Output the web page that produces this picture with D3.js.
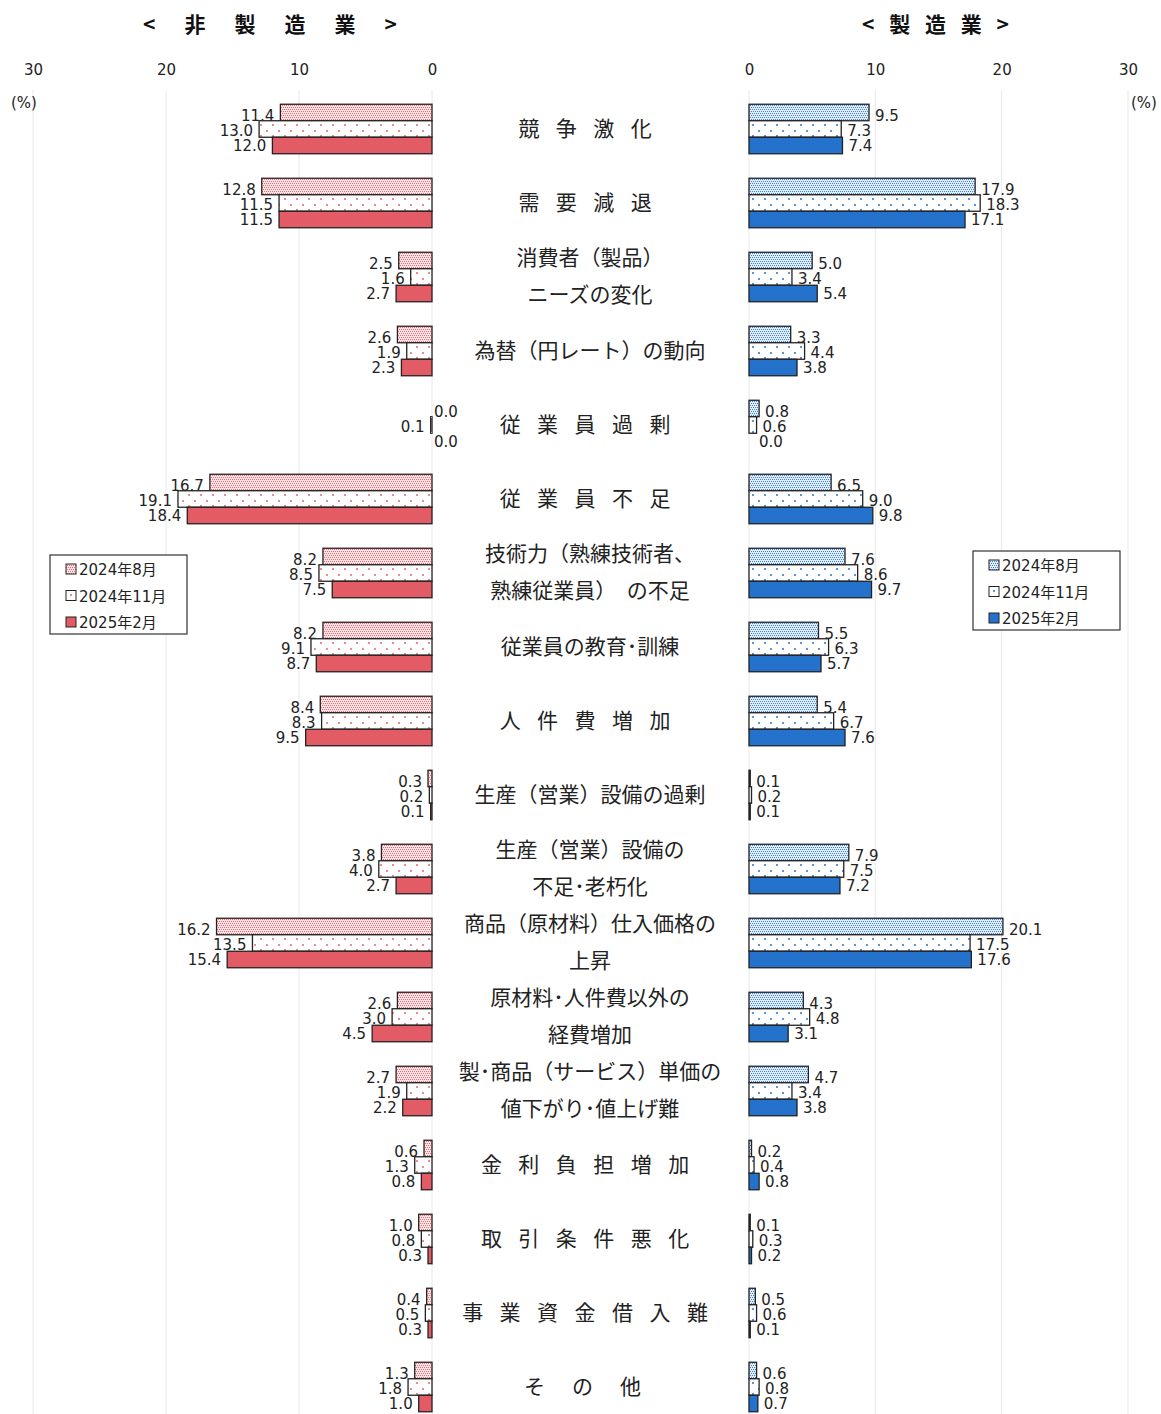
<!DOCTYPE html>
<html>
<head>
<meta charset="utf-8">
<script src="https://cdn.jsdelivr.net/npm/d3@7"></script>
<style>
  body { margin: 0; background: #fff; }
  svg { display: block; }
</style>
</head>
<body>
<svg id="chart" width="1161" height="1414"></svg>
<script>
// categories (each entry = lines of the label)
const categories = [
    ["競　争　激　化"],
    ["需　要　減　退"],
    ["消費者（製品）", "ニーズの変化"],
    ["為替（円レート）の動向"],
    ["従　業　員　過　剰"],
    ["従　業　員　不　足"],
    ["技術力（熟練技術者、", "熟練従業員）　の不足"],
    ["従業員の教育･訓練"],
    ["人　件　費　増　加"],
    ["生産（営業）設備の過剰"],
    ["生産（営業）設備の", "不足･老朽化"],
    ["商品（原材料）仕入価格の", "上昇"],
    ["原材料･人件費以外の", "経費増加"],
    ["製･商品（サービス）単価の", "値下がり･値上げ難"],
    ["金　利　負　担　増　加"],
    ["取　引　条　件　悪　化"],
    ["事　業　資　金　借　入　難"],
    ["そ　の　他"]
];

const periods = ["2024年8月", "2024年11月", "2025年2月"];

// 非製造業
const nonMfgAug = [11.4, 12.8, 2.5, 2.6, 0.0, 16.7, 8.2, 8.2, 8.4, 0.3, 3.8, 16.2, 2.6, 2.7, 0.6, 1.0, 0.4, 1.3];
const nonMfgNov = [13.0, 11.5, 1.6, 1.9, 0.1, 19.1, 8.5, 9.1, 8.3, 0.2, 4.0, 13.5, 3.0, 1.9, 1.3, 0.8, 0.5, 1.8];
const nonMfgFeb = [12.0, 11.5, 2.7, 2.3, 0.0, 18.4, 7.5, 8.7, 9.5, 0.1, 2.7, 15.4, 4.5, 2.2, 0.8, 0.3, 0.3, 1.0];

// 製造業
const mfgAug = [9.5, 17.9, 5.0, 3.3, 0.8, 6.5, 7.6, 5.5, 5.4, 0.1, 7.9, 20.1, 4.3, 4.7, 0.2, 0.1, 0.5, 0.6];
const mfgNov = [7.3, 18.3, 3.4, 4.4, 0.6, 9.0, 8.6, 6.3, 6.7, 0.2, 7.5, 17.5, 4.8, 3.4, 0.4, 0.3, 0.6, 0.8];
const mfgFeb = [7.4, 17.1, 5.4, 3.8, 0.0, 9.8, 9.7, 5.7, 7.6, 0.1, 7.2, 17.6, 3.1, 3.8, 0.8, 0.2, 0.1, 0.7];

const tickValues = [0, 10, 20, 30];

const svg = d3.select("#chart");
const numFont = "'DejaVu Sans', 'Noto Sans CJK JP', sans-serif";
const jpFont = "'Noto Sans CJK JP', sans-serif";

// patterns
let defs = svg.append("defs");
function densePattern(id, bg, color) {
    let p = defs.append("pattern").attr("id", id)
        .attr("patternUnits", "userSpaceOnUse").attr("width", 4).attr("height", 4);
    p.append("rect").attr("width", 4).attr("height", 4).attr("fill", bg);
    [[0, 0], [2, 0], [1, 2], [3, 2]].forEach(function(c) {
        p.append("rect").attr("x", c[0]).attr("y", c[1]).attr("width", 1).attr("height", 1).attr("fill", color);
    });
}
function sparsePattern(id, color) {
    let p = defs.append("pattern").attr("id", id)
        .attr("patternUnits", "userSpaceOnUse").attr("width", 12).attr("height", 11);
    p.append("rect").attr("width", 12).attr("height", 11).attr("fill", "#fff");
    p.append("rect").attr("x", 2).attr("y", 1).attr("width", 2).attr("height", 2).attr("fill", color);
    p.append("rect").attr("x", 8).attr("y", 6).attr("width", 2).attr("height", 2).attr("fill", color);
}
densePattern("redDense", "#fbe4e6", "#ec6a73");
sparsePattern("redSparse", "#ef8a91");
densePattern("blueDense", "#e2edfa", "#3d82d4");
sparsePattern("blueSparse", "#5b95da");

const redFills = ["url(#redDense)", "url(#redSparse)", "#e35b64"];
const blueFills = ["url(#blueDense)", "url(#blueSparse)", "#2472cb"];

// scales
let xL = d3.scaleLinear().domain([0, 30]).range([432, 33]);
let xR = d3.scaleLinear().domain([0, 30]).range([749, 1128]);

let y = d3.scaleBand().domain(d3.range(categories.length)).range([92, 92 + 74 * categories.length]);
let yInner = d3.scaleBand().domain([0, 1, 2]).range([-24.75, 24.75]);

// gridlines
svg.selectAll(".gridL").data(tickValues).enter().append("line")
    .attr("x1", d => xL(d)).attr("x2", d => xL(d))
    .attr("y1", 90).attr("y2", 1414)
    .style("stroke", "#e8e8e8");
svg.selectAll(".gridR").data(tickValues).enter().append("line")
    .attr("x1", d => xR(d)).attr("x2", d => xR(d))
    .attr("y1", 90).attr("y2", 1414)
    .style("stroke", "#e8e8e8");

// axes (labels only)
function drawAxis(scale) {
    let g = svg.append("g").attr("transform", "translate(0,75)")
        .call(d3.axisTop(scale).tickValues(tickValues).tickSize(0).tickPadding(0));
    g.select(".domain").remove();
    g.selectAll("text").style("font-family", numFont).style("font-size", "15px").style("fill", "#222");
}
drawAxis(xL);
drawAxis(xR);

svg.append("text").attr("x", 24).attr("y", 108).attr("text-anchor", "middle")
    .style("font-family", numFont).style("font-size", "15px").style("fill", "#222").text("(%)");
svg.append("text").attr("x", 1144).attr("y", 108).attr("text-anchor", "middle")
    .style("font-family", numFont).style("font-size", "15px").style("fill", "#222").text("(%)");

// headers
svg.append("text").attr("x", 272).attr("y", 32).attr("text-anchor", "middle")
    .style("font-family", jpFont).style("font-weight", "bold").style("font-size", "21px")
    .style("letter-spacing", "4px").style("fill", "#111").text("<　非　製　造　業　>");
svg.append("text").attr("x", 938).attr("y", 32).attr("text-anchor", "middle")
    .style("font-family", jpFont).style("font-weight", "bold").style("font-size", "21px")
    .style("letter-spacing", "5px").style("fill", "#111").text("< 製 造 業 >");

// build rows
let leftSeries = [nonMfgAug, nonMfgNov, nonMfgFeb];
let rightSeries = [mfgAug, mfgNov, mfgFeb];
let labelShift = [3, 1, 0];

let groups = svg.selectAll(".cat_g")
    .data(categories)
    .enter().append("g")
    .attr("class", "cat_g")
    .attr("transform", (d, i) => "translate(0," + Math.round(y(i) + y.bandwidth() / 2) + ")");

// category labels
groups.each(function(lines, i) {
    let g = d3.select(this);
    let n = lines.length;
    lines.forEach(function(line, j) {
        let off = n === 1 ? 0 : (j === 0 ? -19 : 18);
        // evenly spaced labels are a bit tighter in the original
        let spaced = /^(.　)+.$/.test(line);
        let ls = spaced ? (line.length > 5 ? "-2.25px" : "3px") : "0px";
        g.append("text")
            .attr("x", spaced ? 584 : 590).attr("y", off + 7)
            .attr("text-anchor", "middle")
            .style("font-family", jpFont).style("font-size", "21px").style("fill", "#222")
            .style("letter-spacing", ls)
            .text(line);
    });
});

// bars
groups.each(function(cat, i) {
    let g = d3.select(this);
    for (let s = 0; s < 3; s++) {
        let yb = yInner(s);
        let h = yInner.bandwidth();
        // left side
        let vL = leftSeries[s][i];
        if (vL > 0) {
            g.append("rect")
                .attr("x", xL(vL)).attr("y", yb)
                .attr("width", xL(0) - xL(vL)).attr("height", h)
                .style("fill", redFills[s]).style("stroke", "#222").style("stroke-width", 1.3);
        }
        g.append("text")
            .attr("x", vL > 0 ? xL(vL) - 6 : xL(0) + 2)
            .attr("y", yb + h / 2 + 5.5 + labelShift[s])
            .attr("text-anchor", vL > 0 ? "end" : "start")
            .style("font-family", numFont).style("font-size", "15px").style("fill", "#222")
            .text(vL.toFixed(1));
        // right side
        let vR = rightSeries[s][i];
        if (vR > 0) {
            g.append("rect")
                .attr("x", xR(0)).attr("y", yb)
                .attr("width", xR(vR) - xR(0)).attr("height", h)
                .style("fill", blueFills[s]).style("stroke", "#222").style("stroke-width", 1.3);
        }
        g.append("text")
            .attr("x", xR(vR) + (vR > 0 ? 6 : 10))
            .attr("y", yb + h / 2 + 5.5 + labelShift[s])
            .attr("text-anchor", "start")
            .style("font-family", numFont).style("font-size", "15px").style("fill", "#222")
            .text(vR.toFixed(1));
    }
});

// legends
function drawLegend(x, yTop, w, h, fills) {
    let lg = svg.append("g").attr("transform", "translate(" + x + "," + yTop + ")");
    lg.append("rect").attr("width", w).attr("height", h)
        .style("fill", "#fff").style("stroke", "#333").style("stroke-width", 1.2);
    periods.forEach(function(p, i) {
        let cy = 14 + i * 26.5;
        lg.append("rect").attr("x", 16).attr("y", cy - 5).attr("width", 10).attr("height", 10)
            .style("fill", fills[i]).style("stroke", "#222").style("stroke-width", 1);
        lg.append("text").attr("x", 29).attr("y", cy + 6)
            .style("font-family", numFont).style("font-size", "15px").style("fill", "#222")
            .text(p);
    });
}
drawLegend(50, 555, 137, 79, redFills);
drawLegend(973, 551, 147, 79, blueFills);
</script>
</body>
</html>
